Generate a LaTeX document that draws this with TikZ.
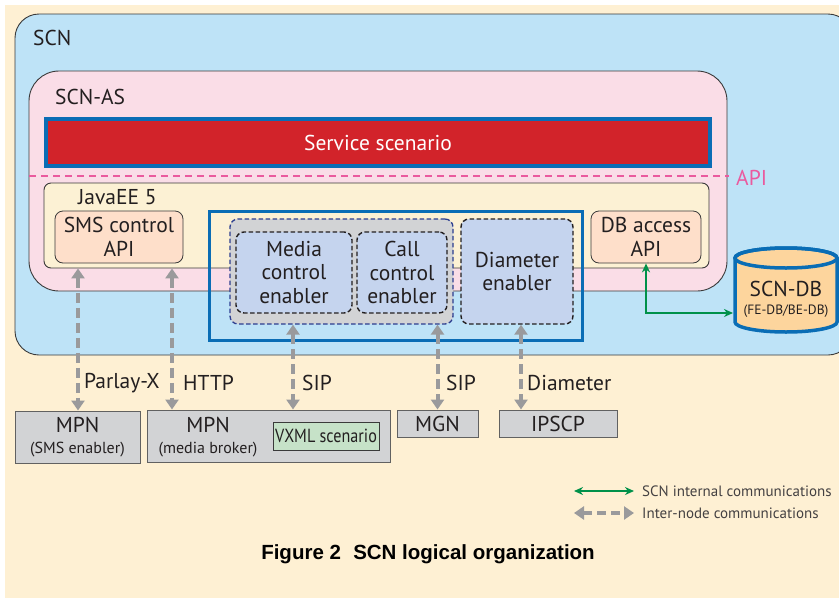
\documentclass[tikz,border=0pt]{standalone}
\usepackage{fontspec}
\setmainfont{PT Sans}
\newfontfamily\capfont{Liberation Sans}
\newfontfamily\condfont[FakeStretch=0.85]{PT Sans}
\usetikzlibrary{arrows.meta,fit}

\definecolor{bgcream}{HTML}{FEF0D3}
\definecolor{scnblue}{HTML}{BEE3F7}
\definecolor{aspink}{HTML}{FADDE7}
\definecolor{javacream}{HTML}{FCF1D4}
\definecolor{peach}{HTML}{FEDFCA}
\definecolor{scred}{HTML}{D2232A}
\definecolor{frameblue}{HTML}{0A6DB5}
\definecolor{grpgray}{HTML}{D2D3D5}
\definecolor{enbblue}{HTML}{C5D4EE}
\definecolor{vxmlgreen}{HTML}{C6E2C8}
\definecolor{dborange}{HTML}{FDD59D}
\definecolor{intgreen}{HTML}{00914A}
\definecolor{arrgray}{HTML}{9A9A9C}
\definecolor{apipink}{HTML}{EA5A9E}
\definecolor{ink}{HTML}{231F20}
\definecolor{edge}{HTML}{3A3A3A}
\definecolor{grpblue}{HTML}{2B3D8F}

\begin{document}
\begin{tikzpicture}[x=1pt,y=-1pt,
  txt/.style={font=\fontsize{21.5}{23.5}\selectfont, text=ink, inner sep=0},
  subtxt/.style={font=\fontsize{16}{18}\selectfont},
  legtxt/.style={font=\fontsize{15}{17}\selectfont, text=ink!85, inner sep=0, anchor=west},
  region/.style={draw=edge, line width=0.9pt, inner sep=0},
  apibox/.style={draw=edge, line width=0.8pt, fill=peach, rounded corners=8pt,
    inner sep=0, align=center, txt},
  enabler/.style={draw=ink, line width=1.4pt, dash pattern=on 4.5pt off 2.5pt,
    fill=enbblue, rounded corners=8pt, inner sep=0, align=center, txt},
  nodebox/.style={draw=edge!80, line width=1pt, fill=grpgray, inner sep=0,
    align=center, txt},
  inter/.style={draw=arrgray, line width=4pt, dash pattern=on 10pt off 5pt,
    {Triangle[width=13pt,length=10pt]}-{Triangle[width=13pt,length=10pt]}},
  internal/.style={draw=intgreen, line width=1.6pt,
    {Stealth[width=8pt,length=9pt]}-{Stealth[width=8pt,length=9pt]}}
]
\useasboundingbox (0,0) rectangle (839,598);
\fill[white] (0,0) rectangle (839,598);
\fill[bgcream] (5,5) rectangle (839,598);

% SCN node area
\node[region, fill=scnblue, rounded corners=24pt, fit={(15,14) (852,355)}] (scn) {};
\node[txt, anchor=west] (scnlbl) at (33,38) {SCN};

% application server
\node[region, fill=aspink, rounded corners=30pt, fit={(29,71) (727,291)}] (scnas) {};
\node[txt, anchor=west] (aslbl) at (55,97) {SCN-AS};

% service scenario layer
\node[draw=frameblue, line width=4pt, fill=scred, inner sep=0,
  minimum width=664pt, minimum height=47pt, txt, text=white] (svc) at (378,142.5) {Service scenario};

% API boundary
\coordinate (apiL) at (29,176);
\coordinate (apiR) at (729,176);
\draw[apipink, line width=1.5pt, dash pattern=on 7pt off 5pt] (apiL) -- (apiR);
\node[txt, text=apipink, anchor=west] (apilbl) at (736,178) {API};

% JavaEE container
\node[region, fill=javacream, rounded corners=7pt, fit={(44,183) (709,268)}] (javaee) {};
\node[txt, anchor=west] (javalbl) at (78,197) {JavaEE 5};

\node[apibox, minimum width=128pt, minimum height=52pt] (sms) at (119,237) {SMS control\\API};
\node[apibox, minimum width=110pt, minimum height=52pt] (dbapi) at (646,237) {DB access\\API};

% enabler frame
\node[draw=frameblue, line width=3pt, inner sep=0, fit={(209.5,211.5) (582.5,340.5)}] (enb) {};
\node[draw=grpblue, line width=1.3pt, dash pattern=on 4.5pt off 2.5pt, fill=grpgray,
  rounded corners=8pt, inner sep=0, fit={(230,219) (453,324)}] (grp) {};
\node[enabler, minimum width=116pt, minimum height=81pt] (media) at (294,272.5) {Media\\control\\enabler};
\node[enabler, minimum width=90pt, minimum height=81pt] (call) at (402,272.5) {Call\\control\\enabler};
\node[enabler, minimum width=112pt, minimum height=105pt] (diam) at (517,271.5) {Diameter\\enabler};

% SCN-DB cylinder
\path[fill=dborange, draw=frameblue, line width=3.5pt]
  (735,258) -- (735,322) arc[start angle=180, end angle=0, x radius=51, y radius=10]
  -- (837,258) arc[start angle=0, end angle=-180, x radius=51, y radius=10] -- cycle;
\draw[frameblue, line width=3.5pt] (786,258) ellipse[x radius=51, y radius=10];
\node[txt, inner sep=0] (scndb) at (786,289) {SCN-DB};
\node[font=\fontsize{13.5}{15}\selectfont, text=ink, inner sep=0] (scndbsub) at (786,311) {(FE-DB/BE-DB)};
\coordinate (dbin) at (733,313);

% internal link
\draw[internal] (dbapi.south) |- (dbin);

% external nodes
\node[nodebox, minimum width=125pt, minimum height=52pt] (mpn1) at (77.5,437)
  {MPN\\[-2pt]{\fontsize{16}{18}\selectfont (SMS enabler)}};
\node[nodebox, minimum width=243pt, minimum height=52pt] (mpn2) at (268.5,436) {};
\node[txt, align=center] (mpn2txt) at (208,437)
  {MPN\\[-2pt]{\fontsize{16}{18}\selectfont (media broker)}};
\node[draw=edge, line width=0.9pt, fill=vxmlgreen, inner sep=0, minimum width=106pt,
  minimum height=28pt, font=\condfont\fontsize{19}{21}\selectfont, text=ink] (vxml) at (326,436) {VXML scenario};
\node[nodebox, minimum width=81pt, minimum height=27pt] (mgn) at (437.5,423.5) {MGN};
\node[nodebox, minimum width=118pt, minimum height=27pt] (ipscp) at (558,423.5) {IPSCP};

% inter-node links
\draw[inter] (78,0 |- javaee.south) -- (78,0 |- mpn1.north);
\draw[inter] (172,0 |- javaee.south) -- (172,0 |- mpn2.north);
\draw[inter] (293,0 |- grp.south) -- (293,0 |- mpn2.north);
\draw[inter] (437.5,0 |- grp.south) -- (mgn.north);
\draw[inter] (521,0 |- diam.south) -- (521,0 |- ipscp.north);

\node[txt, anchor=west] (plx) at (84,383) {Parlay-X};
\node[txt, anchor=west] (http) at (183,383) {HTTP};
\node[txt, anchor=west] (sip1) at (302,383) {SIP};
\node[txt, anchor=west] (sip2) at (446,383) {SIP};
\node[txt, anchor=west] (diaml) at (527,383) {Diameter};

% legend
\coordinate (lg1a) at (574,491);
\coordinate (lg1b) at (634,491);
\coordinate (lg2a) at (574,513);
\coordinate (lg2b) at (634,513);
\draw[internal] (lg1a) -- (lg1b);
\draw[draw=arrgray, line width=4.5pt, dash pattern=on 9pt off 5pt,
  {Triangle[width=13pt,length=10pt]}-{Triangle[width=13pt,length=10pt]}] (lg2a) -- (lg2b);
\node[legtxt] (lgt1) at (642,491) {SCN internal communications};
\node[legtxt] (lgt2) at (642,513) {Inter-node communications};

% caption
\node[font=\capfont\bfseries\fontsize{20.5}{23}\selectfont, text=black, inner sep=0] (cap) at (428,554)
  {Figure 2\hspace{0.6em}SCN logical organization};
\end{tikzpicture}
\end{document}
